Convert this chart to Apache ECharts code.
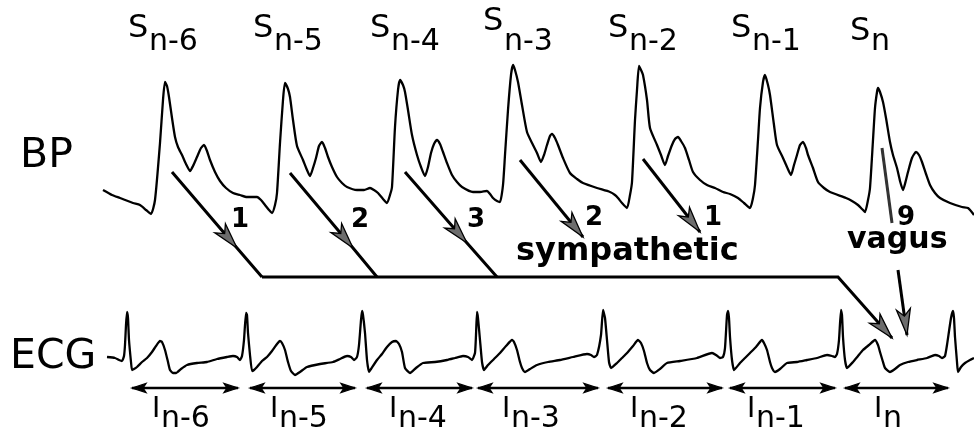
<!DOCTYPE html>
<html><head><meta charset="utf-8">
<script src="https://cdn.jsdelivr.net/npm/echarts@6/dist/echarts.min.js"></script>
<style>html,body{margin:0;padding:0;background:#fff}#c{width:974px;height:433px}</style>
</head><body><div id="c"></div>
<script>
// ---- data (x = time axis units, y = vertical units) ----
const bpTrace = [
[103,190],[112,195],[120,198],[133,203],[140,205],[146,210],[151,214],[155,200],[160,143],[163,100],[165,82],[167,86],[169,97],[172,118],[175,137],[178,147],[182,155],[186,164],[190,171],[193,166],[197,157],[201,148],[204,145],[207,151],[210,160],[215,172],[220,181],[226,188],[233,193],[240,195],[247,197],[257,197],[261,200],[265,205],[269,210],[272,213],
[275,205],[277,193],[280,143],[283,100],[285,83],[288,89],[290,97],[293,120],[297,146],[303,160],[307,170],[310,176],[313,168],[316,158],[319,146],[322,142],[325,148],[328,157],[332,167],[337,177],[342,183],[347,187],[357,190],[364,190],[370,188],[374,190],[378,193],[383,199],[387,203],
[390,195],[392,187],[395,127],[398,90],[400,80],[403,85],[405,92],[408,110],[412,135],[417,155],[421,167],[425,176],[428,167],[431,153],[434,144],[437,140],[440,144],[443,152],[447,163],[452,175],[457,182],[462,187],[473,192],[480,192],[487,191],[490,194],[493,198],[497,201],[500,202],
[503,185],[505,155],[508,110],[511,75],[513,65],[515,70],[518,82],[522,105],[527,132],[533,145],[537,153],[541,162],[544,155],[547,145],[550,136],[552,134],[555,138],[558,145],[563,158],[570,173],[577,179],[583,183],[597,188],[610,192],[615,195],[618,198],[622,203],[627,208],
[630,195],[632,182],[635,120],[637,90],[639,66],[641,70],[643,75],[647,100],[650,128],[657,145],[661,155],[665,165],[668,156],[672,145],[675,139],[678,137],[681,141],[685,148],[689,160],[693,172],[700,180],[707,185],[715,188],[723,192],[730,194],[738,198],[744,203],[750,208],
[753,198],[755,185],[758,140],[760,108],[763,82],[765,75],[768,85],[770,95],[774,125],[777,145],[783,158],[787,167],[791,175],[794,165],[797,155],[800,145],[803,142],[806,148],[808,155],[813,168],[818,182],[824,188],[830,192],[846,198],[852,201],[858,205],[862,209],[865,212],
[868,200],[870,188],[873,140],[875,108],[877,92],[878,88],[880,92],[883,102],[886,118],[890,142],[893,155],[897,168],[900,181],[903,190],[906,180],[908,172],[912,158],[916,152],[919,155],[922,162],[926,174],[930,185],[935,193],[940,198],[950,203],[962,207],[968,208],[974,215]
];
const ecgTrace = [
[107,357],[115,358],[119,360],[122,361],[124,356],[125,345],[126,325],[127,312],[128,318],[129,340],[131,362],[132,370],[134,369],[137,367],[142,362],[147,358],[152,352],[156,346],[160,341],[162,342],[165,350],[168,362],[170,370],[173,373],[176,373],[181,369],[187,365],[197,363],[207,362],[217,359],[227,357],[233,356],[237,357],[240,360],[242,356],[244,340],[246,313],[247,315],[248,333],[250,355],[252,371],[254,370],[257,367],[262,361],[267,357],[272,351],[277,344],[280,341],[282,343],[285,350],[288,362],[291,371],[295,375],[300,372],[307,367],[320,364],[333,362],[340,359],[347,356],[351,357],[354,360],[357,357],[359,345],[361,320],[362,311],[363,315],[365,333],[367,360],[369,372],[371,369],[377,360],[382,354],[387,347],[392,342],[396,341],[399,344],[402,352],[405,368],[410,373],[416,368],[423,363],[435,362],[447,360],[455,358],[463,356],[468,357],[472,360],[475,353],[476,335],[477,312],[478,318],[480,340],[482,362],[484,370],[488,365],[494,359],[500,353],[506,346],[512,340],[514,342],[517,350],[520,362],[522,368],[525,372],[530,369],[537,365],[548,362],[560,360],[573,357],[587,354],[591,355],[594,357],[597,355],[601,335],[603,310],[605,318],[607,340],[609,362],[611,368],[617,363],[622,358],[627,353],[633,346],[638,340],[641,343],[644,351],[647,363],[650,370],[654,373],[660,369],[667,363],[680,361],[697,358],[712,353],[716,355],[720,358],[723,357],[725,348],[727,315],[728,311],[729,318],[730,337],[732,360],[734,370],[740,363],[745,358],[750,353],[756,347],[762,340],[764,343],[767,350],[770,362],[772,368],[775,372],[780,369],[787,363],[797,362],[807,360],[817,358],[827,355],[832,356],[835,357],[837,354],[839,340],[841,310],[842,315],[843,337],[845,360],[847,368],[853,362],[858,356],[863,350],[869,345],[875,340],[878,345],[880,352],[883,362],[885,368],[890,372],[895,369],[900,365],[908,362],[917,360],[927,358],[935,355],[939,356],[942,358],[945,356],[947,345],[951,318],[953,311],[954,318],[955,337],[957,362],[958,372],[961,367],[965,363],[970,360],[974,358]
];
const beatSubs = ['n-6','n-5','n-4','n-3','n-2','n-1','n'];
const sLabelX = [130,255,372,485,610,733,852];
const sCapMid = [29,29,29,22,29,29,32];
const iLabelX = [155,273,392,505,633,750,877];
const intervalStart = [132,250,367,478,608,730,845];
const intervalEnd = [238,355,472,598,722,835,948];
const sympStart = [[172,172],[290,173],[405,172],[520,160],[643,159]];
const sympTip = [[237,248],[353,248],[467,243],[583,237],[700,232]];
const sympJoin = [[262,277],[377,277],[497,277]];
const sympLag = ['1','2','3','2','1'];
const sympLagPos = [[240,220],[360,220],[476,220],[594,218],[713,218]];
const sympPath = [[262,277],[838,277],[892,338]];
const vagusLine = [[882,148],[892,223]];
const vagusArrow = [[898,270],[907,335]];
const vagusLag = '9';
const vagusLagPos = [906,218];

// ---- helpers ----
const INK = '#000';
const FONT = '"DejaVu Sans", "Liberation Sans", Arial, sans-serif';

function textSeries(points, texts, style) {
  return {
    type: 'scatter', silent: true, symbolSize: 1, z: 10,
    itemStyle: { color: 'rgba(0,0,0,0)', opacity: 1 },
    data: points,
    label: Object.assign({
      show: true, position: 'inside', color: INK, opacity: 1, fontFamily: FONT,
      align: 'left', verticalAlign: 'middle',
      formatter: p => texts[p.dataIndex]
    }, style),
    emphasis: { disabled: true }
  };
}
function headRender(L, W, N, fill) {
  return function (params, api) {
    const a = api.coord([api.value(0), api.value(1)]);
    const b = api.coord([api.value(2), api.value(3)]);
    const dx = b[0] - a[0], dy = b[1] - a[1], len = Math.hypot(dx, dy);
    const ux = dx / len, uy = dy / len, nx = -uy, ny = ux;
    const bx = b[0] - ux * L, by = b[1] - uy * L;
    const pts = [b, [bx + nx * W, by + ny * W], [b[0] - ux * (L - N), b[1] - uy * (L - N)], [bx - nx * W, by - ny * W]];
    return { type: 'polygon', shape: { points: pts }, style: { fill: fill, stroke: INK, lineWidth: 1.3 } };
  };
}

// shafts
const shaftData = [];
sympStart.forEach((s, i) => {
  const pts = [s, sympTip[i]];
  if (sympJoin[i]) pts.push(sympJoin[i]);
  shaftData.push({ coords: pts });
});
shaftData.push({ coords: sympPath });
shaftData.push({ coords: vagusArrow });

const bigHeads = sympStart.map((s, i) => [s[0], s[1], sympTip[i][0], sympTip[i][1]]);
bigHeads.push([sympPath[1][0], sympPath[1][1], sympPath[2][0], sympPath[2][1]]);
bigHeads.push([vagusArrow[0][0], vagusArrow[0][1], vagusArrow[1][0], vagusArrow[1][1]]);

const IY = 388;
const intervalShafts = intervalStart.map((s, i) => ({ coords: [[s, IY], [intervalEnd[i], IY]] }));
const smallHeads = [];
intervalStart.forEach((s, i) => {
  smallHeads.push([intervalEnd[i], IY, s, IY]);
  smallHeads.push([s, IY, intervalEnd[i], IY]);
});

const chart = echarts.init(document.getElementById('c'), null, { renderer: 'canvas' });
chart.setOption({
  animation: false,
  backgroundColor: '#fff',
  grid: { left: 0, right: 0, top: 0, bottom: 0 },
  xAxis: { type: 'value', min: 0, max: 974, show: false },
  yAxis: { type: 'value', min: 0, max: 433, inverse: true, show: false },
  series: [
    { name: 'BP', type: 'line', data: bpTrace, showSymbol: false, symbol: 'none', smooth: 0.2, silent: true,
      lineStyle: { color: INK, width: 2.3 } },
    { name: 'ECG', type: 'line', data: ecgTrace, showSymbol: false, symbol: 'none', smooth: 0.15, silent: true,
      lineStyle: { color: INK, width: 2.3 } },
    { type: 'lines', coordinateSystem: 'cartesian2d', polyline: true, silent: true, data: shaftData,
      lineStyle: { color: INK, width: 3, opacity: 1, curveness: 0 } },
    { type: 'lines', coordinateSystem: 'cartesian2d', polyline: true, silent: true,
      data: [{ coords: vagusLine }],
      lineStyle: { color: '#333', width: 3, opacity: 1 } },
    { type: 'lines', coordinateSystem: 'cartesian2d', polyline: true, silent: true, data: intervalShafts,
      lineStyle: { color: INK, width: 2.4, opacity: 1 } },
    { type: 'custom', silent: true, data: bigHeads, encode: { x: [0, 2], y: [1, 3] }, z: 5,
      renderItem: headRender(26, 7, 7, '#6d6d6d') },
    { type: 'custom', silent: true, data: smallHeads, encode: { x: [0, 2], y: [1, 3] }, z: 5,
      renderItem: headRender(14, 4.5, 3, INK) },
    // S labels
    textSeries(sLabelX.map((x, i) => [x - 2, sCapMid[i]]), sLabelX.map(() => 'S'), { fontSize: 32 }),
    textSeries(sLabelX.map(x => [x + 19, 42]), beatSubs, { fontSize: 30 }),
    // I labels
    textSeries(iLabelX.map(x => [x - 3, 410]), iLabelX.map(() => 'I'), { fontSize: 28 }),
    textSeries(iLabelX.map(x => [x + 6, 419]), beatSubs, { fontSize: 30 }),
    // trace names
    textSeries([[20, 156], [10, 357]], ['BP', 'ECG'], { fontSize: 41 }),
    // lags
    textSeries(sympLagPos.concat([vagusLagPos]), sympLag.concat([vagusLag]), { fontSize: 26, fontWeight: 'bold', align: 'center' }),
    // pathway names
    textSeries([[516, 252]], ['sympathetic'], { fontSize: 32, fontWeight: 'bold' }),
    textSeries([[847, 240]], ['vagus'], { fontSize: 30, fontWeight: 'bold' })
  ]
});
</script>
</body></html>
